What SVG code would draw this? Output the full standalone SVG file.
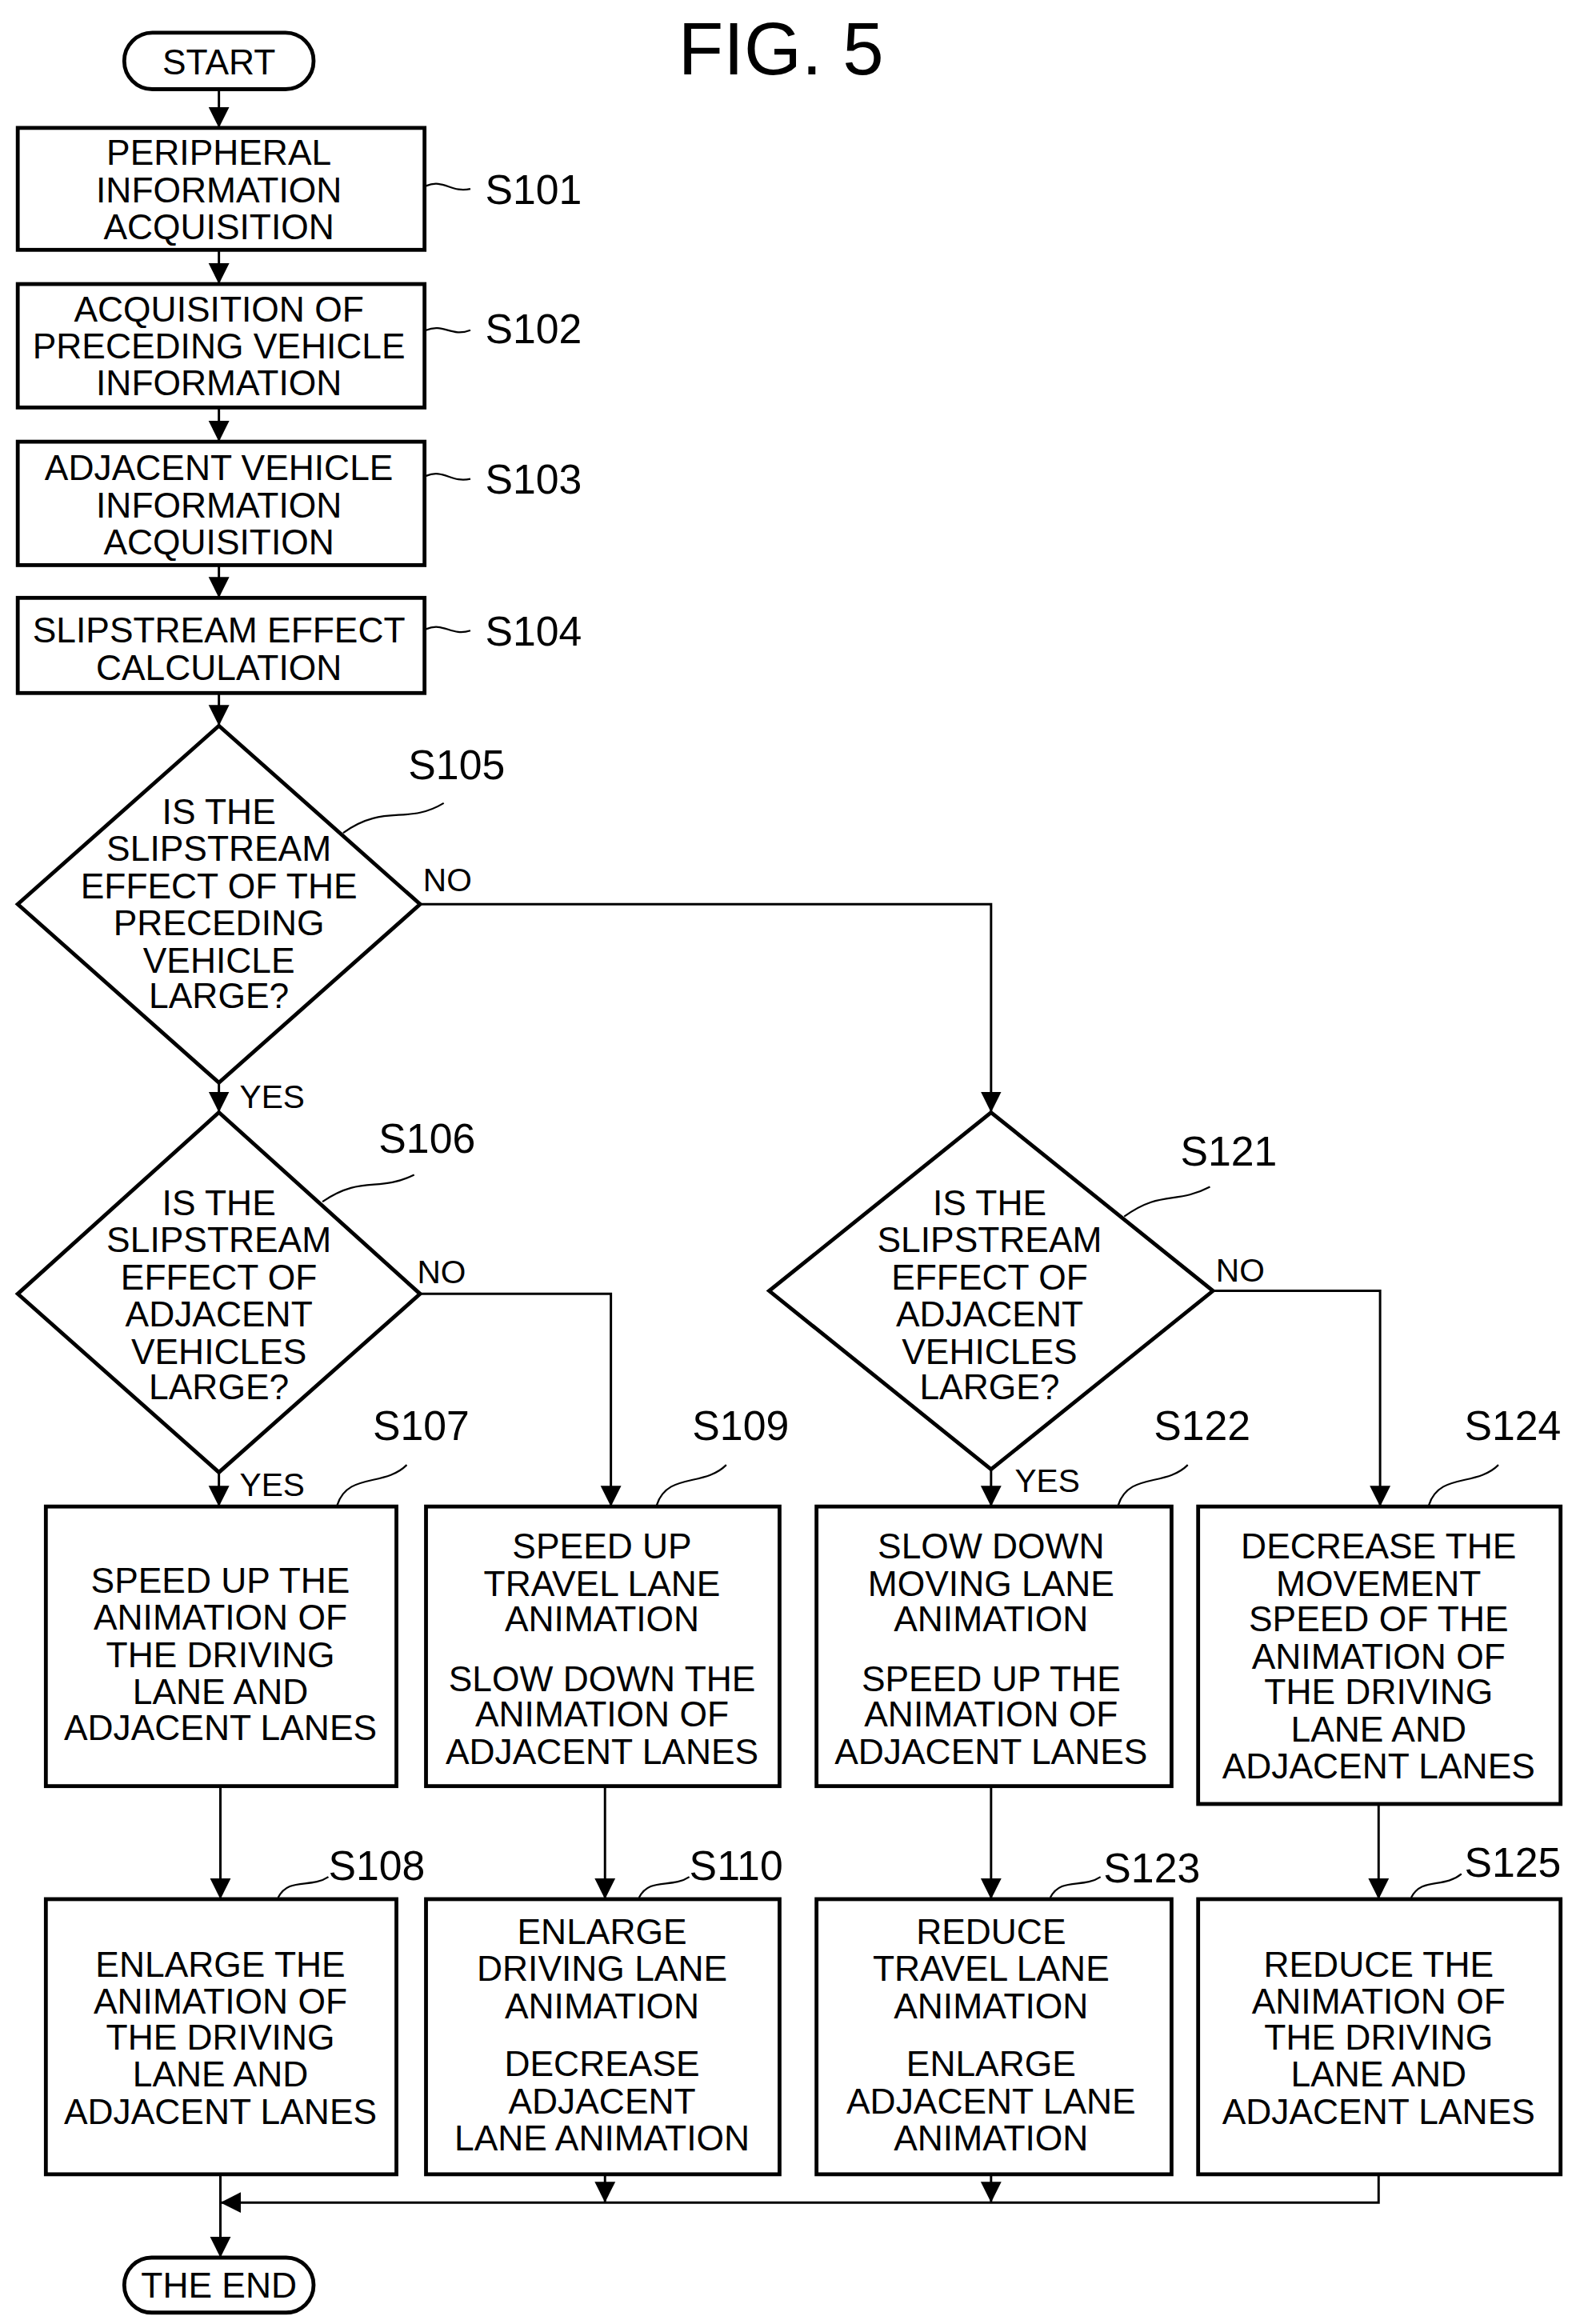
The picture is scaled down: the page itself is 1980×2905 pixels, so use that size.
<svg xmlns="http://www.w3.org/2000/svg" width="1980" height="2905" viewBox="0 0 1980 2905">
<defs>
<style>
.b{fill:#fff;stroke:#000;stroke-width:2.6}
.c{fill:none;stroke:#000;stroke-width:1.6}
.s{fill:none;stroke:#000;stroke-width:1.2}
text{font-family:"Liberation Sans",Arial,sans-serif;fill:#000;text-anchor:middle;font-size:24px}
.l{font-size:28px;text-anchor:start}
.y{font-size:22px;text-anchor:start}
</style>
<marker id="a" markerUnits="userSpaceOnUse" markerWidth="14" markerHeight="16" viewBox="0 0 14 16" refX="14" refY="8" orient="auto"><path d="M0,1 L14,8 L0,15 Z" fill="#000"/></marker>
</defs>
<rect width="1980" height="2905" fill="#fff"/>
<g transform="scale(1.849 1.859)">
<text x="528" y="50" style="font-size:50px">FIG. 5</text>
<g id="connectors">
<path class="c" d="M148,60 V86" marker-end="url(#a)"/>
<path class="c" d="M148,168 V191" marker-end="url(#a)"/>
<path class="c" d="M148,274 V297" marker-end="url(#a)"/>
<path class="c" d="M148,380 V402" marker-end="url(#a)"/>
<path class="c" d="M148,466 V488" marker-end="url(#a)"/>
<path class="c" d="M148,728 V748" marker-end="url(#a)"/>
<path class="c" d="M284,608 H670 V748" marker-end="url(#a)"/>
<path class="c" d="M148,990 V1013" marker-end="url(#a)"/>
<path class="c" d="M284,870 H413 V1013" marker-end="url(#a)"/>
<path class="c" d="M670,988 V1013" marker-end="url(#a)"/>
<path class="c" d="M820,868 H933 V1013" marker-end="url(#a)"/>
<path class="c" d="M149,1201 V1277" marker-end="url(#a)"/>
<path class="c" d="M409,1201 V1277" marker-end="url(#a)"/>
<path class="c" d="M670,1201 V1277" marker-end="url(#a)"/>
<path class="c" d="M932,1213 V1277" marker-end="url(#a)"/>
<path class="c" d="M409,1462 V1481" marker-end="url(#a)"/>
<path class="c" d="M670,1462 V1481" marker-end="url(#a)"/>
<path class="c" d="M932,1462 V1481 H149" marker-end="url(#a)"/>
<path class="c" d="M149,1462 V1518" marker-end="url(#a)"/>
<text x="286" y="599" class="y">NO</text>
<text x="162" y="745" class="y">YES</text>
<text x="282" y="863" class="y">NO</text>
<text x="822" y="862" class="y">NO</text>
<text x="162" y="1006" class="y">YES</text>
<text x="686" y="1003" class="y">YES</text>
</g>
<g id="start"><rect class="b" x="84" y="22" width="128" height="38" rx="19"/><text x="148" y="50">START</text></g>
<g id="s101"><rect class="b" x="12" y="86" width="275" height="82"/><text x="148" y="111">PERIPHERAL</text><text x="148" y="136">INFORMATION</text><text x="148" y="161">ACQUISITION</text><path class="s" d="M288,125 C300,120 305,130 318,127"/><text class="l" x="328" y="137">S101</text></g>
<g id="s102"><rect class="b" x="12" y="191" width="275" height="83"/><text x="148" y="216">ACQUISITION OF</text><text x="148" y="241">PRECEDING VEHICLE</text><text x="148" y="266">INFORMATION</text><path class="s" d="M288,222 C300,217 305,227 318,222"/><text class="l" x="328" y="231">S102</text></g>
<g id="s103"><rect class="b" x="12" y="297" width="275" height="83"/><text x="148" y="323">ADJACENT VEHICLE</text><text x="148" y="348">INFORMATION</text><text x="148" y="373">ACQUISITION</text><path class="s" d="M288,320 C300,315 305,325 318,322"/><text class="l" x="328" y="332">S103</text></g>
<g id="s104"><rect class="b" x="12" y="402" width="275" height="64"/><text x="148" y="432">SLIPSTREAM EFFECT</text><text x="148" y="457">CALCULATION</text><path class="s" d="M288,423 C300,418 305,428 318,424"/><text class="l" x="328" y="434">S104</text></g>
<g id="s105"><path class="b" d="M148,488 L284,608 L148,728 L12,608 Z"/><text x="148" y="554">IS THE</text><text x="148" y="579">SLIPSTREAM</text><text x="148" y="604">EFFECT OF THE</text><text x="148" y="629">PRECEDING</text><text x="148" y="654">VEHICLE</text><text x="148" y="678">LARGE?</text><path class="s" d="M232,560 C260,540 275,555 300,540"/><text class="l" x="276" y="524">S105</text></g>
<g id="s106"><path class="b" d="M148,748 L284,870 L148,990 L12,870 Z"/><text x="148" y="817">IS THE</text><text x="148" y="842">SLIPSTREAM</text><text x="148" y="867">EFFECT OF</text><text x="148" y="892">ADJACENT</text><text x="148" y="917">VEHICLES</text><text x="148" y="941">LARGE?</text><path class="s" d="M218,808 C245,790 255,802 280,790"/><text class="l" x="256" y="775">S106</text></g>
<g id="s121"><path class="b" d="M670,748 L820,868 L670,988 L520,868 Z"/><text x="669" y="817">IS THE</text><text x="669" y="842">SLIPSTREAM</text><text x="669" y="867">EFFECT OF</text><text x="669" y="892">ADJACENT</text><text x="669" y="917">VEHICLES</text><text x="669" y="941">LARGE?</text><path class="s" d="M760,818 C785,800 795,810 818,798"/><text class="l" x="798" y="784">S121</text></g>
<g id="s107"><rect class="b" x="31" y="1013" width="237" height="188"/><text x="149" y="1071">SPEED UP THE</text><text x="149" y="1096">ANIMATION OF</text><text x="149" y="1121">THE DRIVING</text><text x="149" y="1146">LANE AND</text><text x="149" y="1170">ADJACENT LANES</text><path class="s" d="M228,1012 C235,990 260,1000 275,985"/><text class="l" x="252" y="968">S107</text></g>
<g id="s109"><rect class="b" x="288" y="1013" width="239" height="188"/><text x="407" y="1048">SPEED UP</text><text x="407" y="1073">TRAVEL LANE</text><text x="407" y="1097">ANIMATION</text><text x="407" y="1137">SLOW DOWN THE</text><text x="407" y="1161">ANIMATION OF</text><text x="407" y="1186">ADJACENT LANES</text><path class="s" d="M444,1012 C451,990 476,1000 491,985"/><text class="l" x="468" y="968">S109</text></g>
<g id="s122"><rect class="b" x="552" y="1013" width="240" height="188"/><text x="670" y="1048">SLOW DOWN</text><text x="670" y="1073">MOVING LANE</text><text x="670" y="1097">ANIMATION</text><text x="670" y="1137">SPEED UP THE</text><text x="670" y="1161">ANIMATION OF</text><text x="670" y="1186">ADJACENT LANES</text><path class="s" d="M756,1012 C763,990 788,1000 803,985"/><text class="l" x="780" y="968">S122</text></g>
<g id="s124"><rect class="b" x="810" y="1013" width="245" height="200"/><text x="932" y="1048">DECREASE THE</text><text x="932" y="1073">MOVEMENT</text><text x="932" y="1097">SPEED OF THE</text><text x="932" y="1122">ANIMATION OF</text><text x="932" y="1146">THE DRIVING</text><text x="932" y="1171">LANE AND</text><text x="932" y="1196">ADJACENT LANES</text><path class="s" d="M966,1012 C973,990 998,1000 1013,985"/><text class="l" x="990" y="968">S124</text></g>
<g id="s108"><rect class="b" x="31" y="1277" width="237" height="185"/><text x="149" y="1329">ENLARGE THE</text><text x="149" y="1354">ANIMATION OF</text><text x="149" y="1378">THE DRIVING</text><text x="149" y="1403">LANE AND</text><text x="149" y="1428">ADJACENT LANES</text><path class="s" d="M188,1276 C195,1262 210,1270 222,1262"/><text class="l" x="222" y="1264">S108</text></g>
<g id="s110"><rect class="b" x="288" y="1277" width="239" height="185"/><text x="407" y="1307">ENLARGE</text><text x="407" y="1332">DRIVING LANE</text><text x="407" y="1357">ANIMATION</text><text x="407" y="1396">DECREASE</text><text x="407" y="1421">ADJACENT</text><text x="407" y="1446">LANE ANIMATION</text><path class="s" d="M432,1276 C439,1262 454,1270 466,1262"/><text class="l" x="466" y="1264">S110</text></g>
<g id="s123"><rect class="b" x="552" y="1277" width="240" height="185"/><text x="670" y="1307">REDUCE</text><text x="670" y="1332">TRAVEL LANE</text><text x="670" y="1357">ANIMATION</text><text x="670" y="1396">ENLARGE</text><text x="670" y="1421">ADJACENT LANE</text><text x="670" y="1446">ANIMATION</text><path class="s" d="M710,1276 C717,1262 732,1270 744,1262"/><text class="l" x="746" y="1266">S123</text></g>
<g id="s125"><rect class="b" x="810" y="1277" width="245" height="185"/><text x="932" y="1329">REDUCE THE</text><text x="932" y="1354">ANIMATION OF</text><text x="932" y="1378">THE DRIVING</text><text x="932" y="1403">LANE AND</text><text x="932" y="1428">ADJACENT LANES</text><path class="s" d="M954,1276 C961,1262 976,1270 988,1260"/><text class="l" x="990" y="1262">S125</text></g>
<g id="end"><rect class="b" x="84" y="1518" width="128" height="37" rx="18.5"/><text x="148" y="1545">THE END</text></g>
</g>
</svg>
